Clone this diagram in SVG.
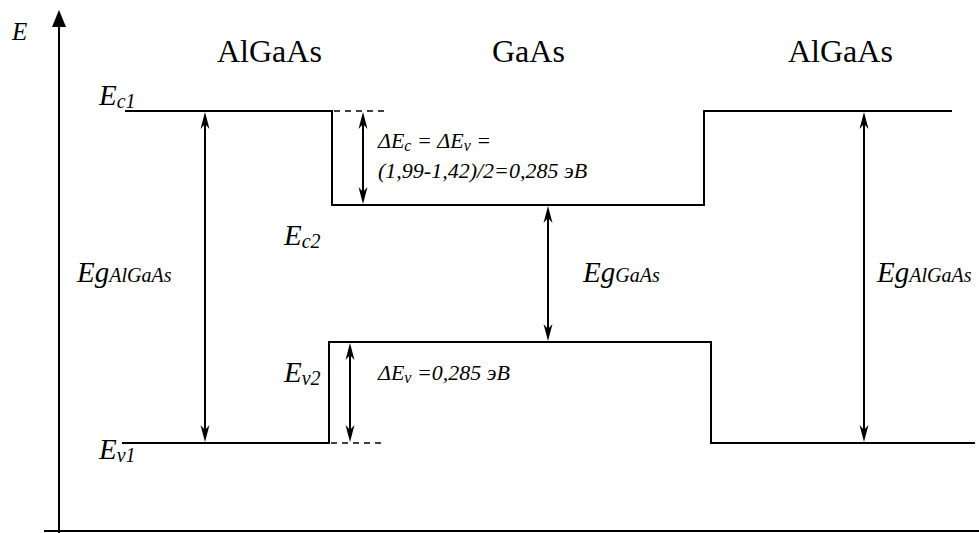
<svg xmlns="http://www.w3.org/2000/svg" xmlns:xlink="http://www.w3.org/1999/xlink" width="979" height="533" viewBox="0 0 979 533">
<defs>
<path id="ahU" d="M0,0 L-4.5,17 L0,12 L4.5,17 Z" fill="#000"/>
</defs>
<g id="axes" stroke="#000" stroke-width="2" fill="none">
<line x1="59" y1="22" x2="59" y2="533"/>
<line x1="44" y1="531" x2="979" y2="531"/>
<path d="M59,10 L52,27 L66,27 Z" fill="#000" stroke="none"/>
</g>
<g id="axis-label"><text x="12" y="40" font-family="Liberation Serif, serif" font-style="italic" font-size="25">E</text></g>
<g id="headers">
<text x="217" y="62" font-family="Liberation Serif, serif" font-size="32">AlGaAs</text>
<text x="492" y="62" font-family="Liberation Serif, serif" font-size="32">GaAs</text>
<text x="788" y="62" font-family="Liberation Serif, serif" font-size="32">AlGaAs</text>
</g>
<g id="band-edges" stroke="#000" stroke-width="2" fill="none">
<polyline points="125,111 332,111 332,205 704,205 704,111 952,111"/>
<polyline points="122,443 329,443 329,342 711,342 711,443 975,443"/>
<line x1="334" y1="111" x2="386" y2="111" stroke-width="1.5" stroke-dasharray="6,5"/>
<line x1="331" y1="443" x2="384" y2="443" stroke-width="1.5" stroke-dasharray="6,5"/>
</g>
<g id="connectors">
<g stroke="#000" stroke-width="2">
<line x1="205" y1="118" x2="205" y2="436"/>
<line x1="548" y1="212" x2="548" y2="335"/>
<line x1="864" y1="118" x2="864" y2="436"/>
<line x1="363" y1="118" x2="363" y2="198"/>
<line x1="350" y1="349" x2="350" y2="436"/>
</g>
<use xlink:href="#ahU" transform="translate(205,112)"/>
<use xlink:href="#ahU" transform="translate(205,442) rotate(180)"/>
<use xlink:href="#ahU" transform="translate(548,206)"/>
<use xlink:href="#ahU" transform="translate(548,341) rotate(180)"/>
<use xlink:href="#ahU" transform="translate(864,112)"/>
<use xlink:href="#ahU" transform="translate(864,442) rotate(180)"/>
<use xlink:href="#ahU" transform="translate(363,112)"/>
<use xlink:href="#ahU" transform="translate(363,204) rotate(180)"/>
<use xlink:href="#ahU" transform="translate(350,343)"/>
<use xlink:href="#ahU" transform="translate(350,442) rotate(180)"/>
</g>
<g id="level-labels">
<text x="99" y="105" font-family="Liberation Serif, serif" font-style="italic" font-size="29">E<tspan font-size="20" dy="3">c1</tspan></text>
<text x="284" y="245" font-family="Liberation Serif, serif" font-style="italic" font-size="29">E<tspan font-size="20" dy="3">c2</tspan></text>
<text x="284" y="382" font-family="Liberation Serif, serif" font-style="italic" font-size="29">E<tspan font-size="20" dy="3">v2</tspan></text>
<text x="99" y="459" font-family="Liberation Serif, serif" font-style="italic" font-size="29">E<tspan font-size="20" dy="3">v1</tspan></text>
</g>
<g id="gap-labels">
<text x="77" y="282" font-family="Liberation Serif, serif" font-style="italic" font-size="29">Eg<tspan font-size="20">AlGaAs</tspan></text>
<text x="583" y="282" font-family="Liberation Serif, serif" font-style="italic" font-size="29">Eg<tspan font-size="20">GaAs</tspan></text>
<text x="877" y="282" font-family="Liberation Serif, serif" font-style="italic" font-size="29">Eg<tspan font-size="20">AlGaAs</tspan></text>
</g>
<g id="offset-labels">
<text x="378" y="148" font-family="Liberation Serif, serif" font-style="italic" font-size="22">ΔE<tspan font-size="16" dy="3">c</tspan><tspan dy="-3"> = ΔE</tspan><tspan font-size="16" dy="3">v</tspan><tspan dy="-3"> =</tspan></text>
<text x="378" y="178" font-family="Liberation Serif, serif" font-style="italic" font-size="22">(1,99-1,42)/2=0,285 эВ</text>
<text x="378" y="380" font-family="Liberation Serif, serif" font-style="italic" font-size="22">ΔE<tspan font-size="16" dy="3">v</tspan><tspan dy="-3"> =0,285 эВ</tspan></text>
</g>
</svg>
